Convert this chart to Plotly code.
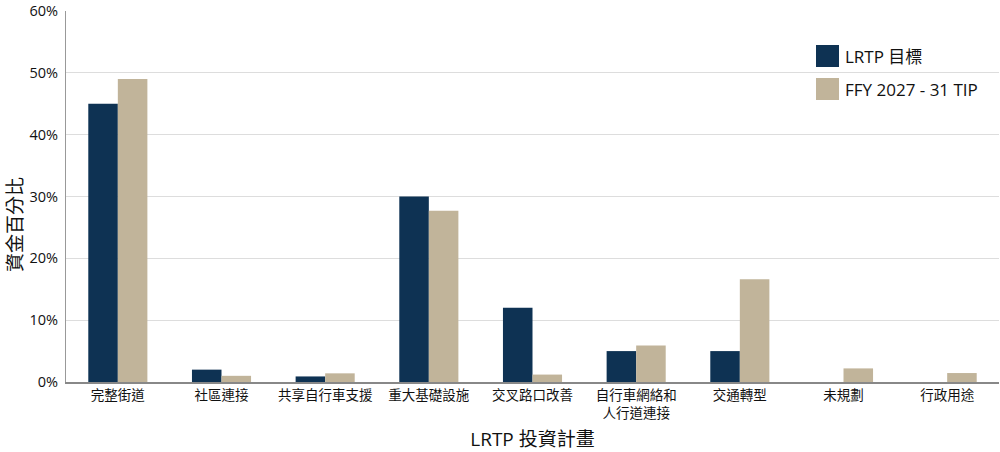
import plotly.graph_objects as go

categories = ["完整街道", "社區連接", "共享自行車支援", "重大基礎設施", "交叉路口改善",
              "自行車網絡和<br>人行道連接", "交通轉型", "未規劃", "行政用途"]
lrtp_target = [45, 2, 0.9, 30, 12, 5, 5, 0, 0]
tip_values = [49, 1.0, 1.4, 27.7, 1.2, 5.9, 16.6, 2.2, 1.45]
series_names = ["LRTP 目標", "FFY 2027 - 31 TIP"]
y_ticks = [0, 10, 20, 30, 40, 50, 60]
y_tick_labels = ["0%", "10%", "20%", "30%", "40%", "50%", "60%"]
y_title = "資金百分比"
x_title = "LRTP 投資計畫"

NAVY = "#0e3253"
TAN = "#c1b49a"
FONT = "Open Sans, Noto Sans CJK TC, sans-serif"

W, H = 1000, 452
L, R, T, B = 66, 1, 11, 70
PW = W - L - R
PH = H - T - B

fig = go.Figure()
fig.add_trace(go.Bar(x=categories, y=lrtp_target, name=series_names[0],
                     marker=dict(color=NAVY, line=dict(width=0)),
                     showlegend=False))
fig.add_trace(go.Bar(x=categories, y=tip_values, name=series_names[1],
                     marker=dict(color=TAN, line=dict(width=0)),
                     showlegend=False))

# manual legend with large swatches (page pixel positions)
for i, (name, col) in enumerate(zip(series_names, [NAVY, TAN])):
    top = 45 + 33 * i
    bot = top + 22
    y0 = 1 - (top - T) / PH
    y1 = 1 - (bot - T) / PH
    fig.add_shape(type="rect", xref="paper", yref="paper",
                  x0=(816 - L) / PW, x1=(839 - L) / PW, y0=y1, y1=y0,
                  fillcolor=col, line=dict(width=0))
    fig.add_annotation(xref="paper", yref="paper", x=(843 - L) / PW, y=(y0 + y1) / 2,
                       text=name, showarrow=False, xanchor="left", yanchor="middle",
                       font=dict(family=FONT, size=17, color="#111"))

# y-axis title (placed slightly below the plot middle, as in the reference)
fig.add_annotation(xref="paper", yref="paper", x=(15 - L) / PW, y=1 - (225 - T) / PH,
                   text=y_title, textangle=-90, showarrow=False,
                   xanchor="center", yanchor="middle",
                   font=dict(family=FONT, size=19, color="#111"))

fig.update_layout(
    width=W, height=H,
    margin=dict(l=L, r=R, t=T, b=B),
    plot_bgcolor="white", paper_bgcolor="white",
    barmode="group", bargap=0.43, bargroupgap=0,
    font=dict(family=FONT, color="#111"),
    xaxis=dict(
        title=dict(text=x_title, font=dict(size=19, family=FONT), standoff=16),
        tickfont=dict(size=13.5), showline=True, linecolor="#888", linewidth=1.5,
        ticks="", showgrid=False,
    ),
    yaxis=dict(
        range=[0, 60.01], tickvals=y_ticks, ticktext=y_tick_labels,
        tickfont=dict(size=14.5), showgrid=True, gridcolor="#dddddd", gridwidth=1.2,
        showline=True, linecolor="#999", linewidth=1.2, zeroline=False, ticks="",
        ticklabeloverflow="allow", ticklabelstandoff=4,
    ),
)

fig.write_html("out.html", config={"displayModeBar": False},
               post_script="document.body.style.margin='0';document.body.style.overflow='hidden';")
